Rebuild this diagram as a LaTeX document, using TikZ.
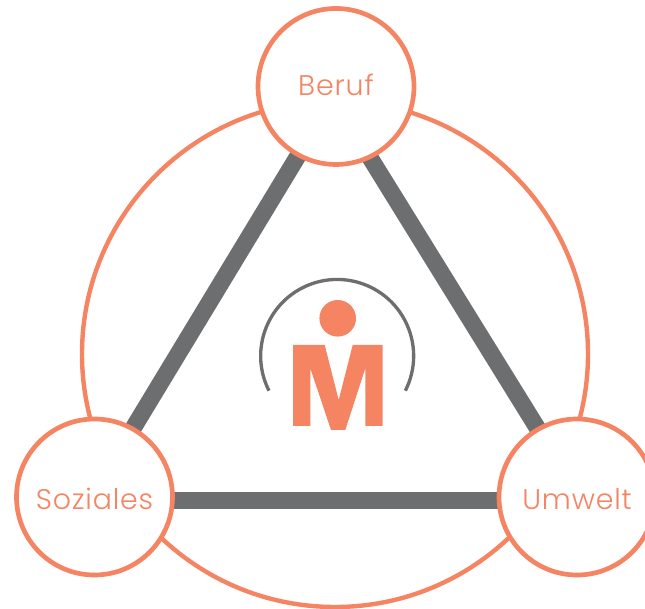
\documentclass[tikz,border=0pt]{standalone}
\usepackage{fontspec}
\setmainfont[UprightFont=* Light,LetterSpace=3]{Poppins}
\usetikzlibrary{backgrounds}
\definecolor{salmon}{HTML}{F58462}
\definecolor{slategray}{HTML}{6D6E70}
\tikzset{
  x=0.75pt,y=0.75pt,
  bigring/.style={circle,draw=salmon,line width=3.3pt,minimum size=379.5pt,inner sep=0pt},
  topic/.style={circle,draw=salmon,fill=white,line width=3.5pt,minimum size=117pt,inner sep=0pt,
    text=salmon,font=\fontsize{21.3}{25}\selectfont,text depth=0pt},
  bar/.style={draw=slategray,line width=12.75pt},
  halo/.style={draw=slategray,line width=2.5pt},
}
\begin{document}
\begin{tikzpicture}
\path[use as bounding box,clip] (0,0) rectangle (645,609);
\node[bigring] (ring) at (335,255) {};
\node[topic,text height=13.5pt] (beruf) at (336,522.5) {Beruf};
\node[topic,text height=18.5pt] (soziales) at (94.5,112) {Soziales};
\node[topic,text height=18.5pt] (umwelt) at (577,112) {Umwelt};
\begin{pgfonlayer}{background}
\draw[bar] ([shift={(4,0)}]beruf.center) -- ([shift={(-3,0)}]soziales.center);
\draw[bar] ([shift={(-10,0)}]beruf.center) -- ([shift={(3,0)}]umwelt.center);
\draw[bar] ([shift={(0,-3.5)}]soziales.center) -- ([shift={(0,-3.5)}]umwelt.center);
\end{pgfonlayer}
\draw[halo] (269,218.3) arc[start angle=207,end angle=-27,radius=76.5];
\fill[salmon] (337.7,290.7) circle[radius=18.3];
\fill[salmon] (293,264) -- (324.7,264) -- (338.7,209) -- (352.7,264) -- (382.7,264) -- (382.7,183) -- (365.3,183) -- (365.3,240.7) -- (345.3,179) -- (331,179) -- (310.3,240.7) -- (310.3,183) -- (293,183) -- cycle;
\end{tikzpicture}
\end{document}
